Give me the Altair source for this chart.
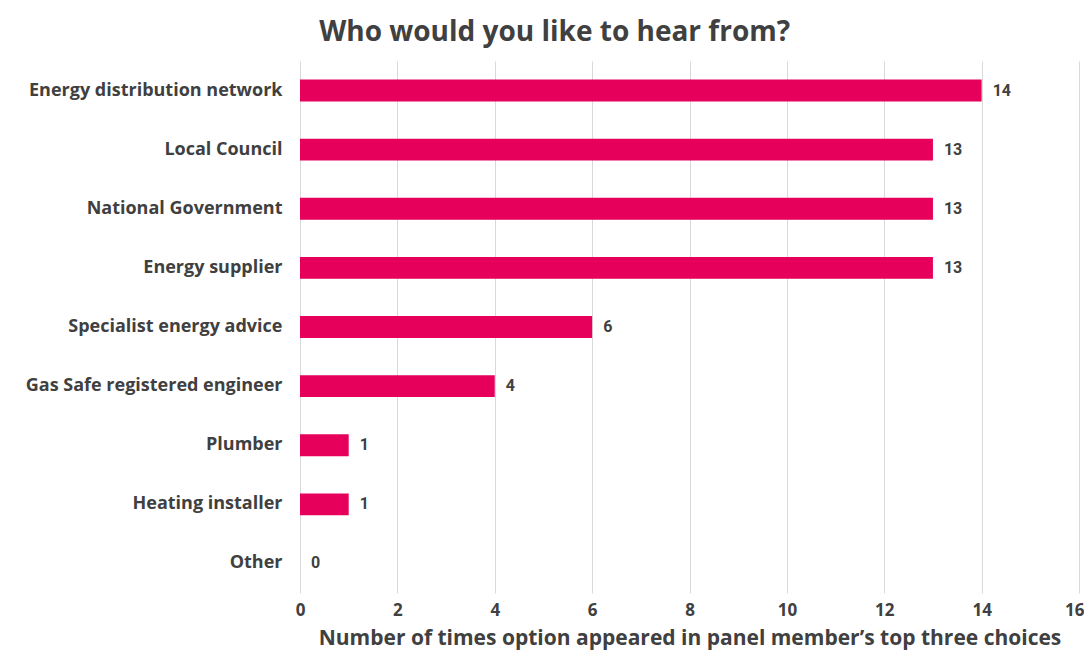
import altair as alt
import pandas as pd

categories = [
    "Energy distribution network",
    "Local Council",
    "National Government",
    "Energy supplier",
    "Specialist energy advice",
    "Gas Safe registered engineer",
    "Plumber",
    "Heating installer",
    "Other",
]
values = [14, 13, 13, 13, 6, 4, 1, 1, 0]
tick_values = [0, 2, 4, 6, 8, 10, 12, 14, 16]

df = pd.DataFrame({"option": categories, "count": values})

FONT = "Open Sans"
TEXT = "#404040"
BAR = "#E6005C"

base = alt.Chart(df).encode(
    y=alt.Y(
        "option:N",
        sort=categories,
        scale=alt.Scale(paddingInner=0.63, paddingOuter=0.315),
        axis=alt.Axis(
            title=None,
            ticks=False,
            domain=False,
            labelPadding=18,
            labelFont=FONT,
            labelFontSize=18,
            labelFontWeight="bold",
            labelColor=TEXT,
            labelLimit=400,
        ),
    ),
    x=alt.X(
        "count:Q",
        scale=alt.Scale(domain=[0, 16]),
        axis=alt.Axis(
            values=tick_values,
            title="Number of times option appeared in panel member\u2019s top three choices",
            titleFont=FONT,
            titleFontSize=21,
            titleFontWeight="bold",
            titleColor=TEXT,
            titlePadding=9,
            labelFont=FONT,
            labelFontSize=17,
            labelFontWeight="bold",
            labelColor=TEXT,
            labelPadding=9,
            labelFlush=False,
            labelAlign={"condition": {"test": "datum.value == 16", "value": "right"}, "value": "center"},
            labelOffset={"condition": {"test": "datum.value == 16", "value": 5}, "value": 0},
            ticks=False,
            domain=False,
            grid=True,
            gridColor="#d9d9d9",
        ),
    ),
)

bars = base.mark_bar(color=BAR)
labels = base.mark_text(
    align="left", baseline="middle", dx=11, font="Roboto", fontSize=16,
    fontWeight="bold", color=TEXT
).encode(text="count:Q")

chart = (
    (bars + labels)
    .properties(
        width=779,
        height=532,
        title=alt.TitleParams(
            "Who would you like to hear from?",
            font=FONT,
            fontSize=28,
            fontWeight="bold",
            color=TEXT,
            anchor="middle",
            frame="bounds",
            offset=14,
        ),
        autosize=alt.AutoSizeParams(type="none"),
        padding={"left": 292, "top": 53, "right": 5, "bottom": 58},
    )
    .configure_view(stroke=None)
)

chart.save("out.html", embed_options={"renderer": "svg", "actions": False})
